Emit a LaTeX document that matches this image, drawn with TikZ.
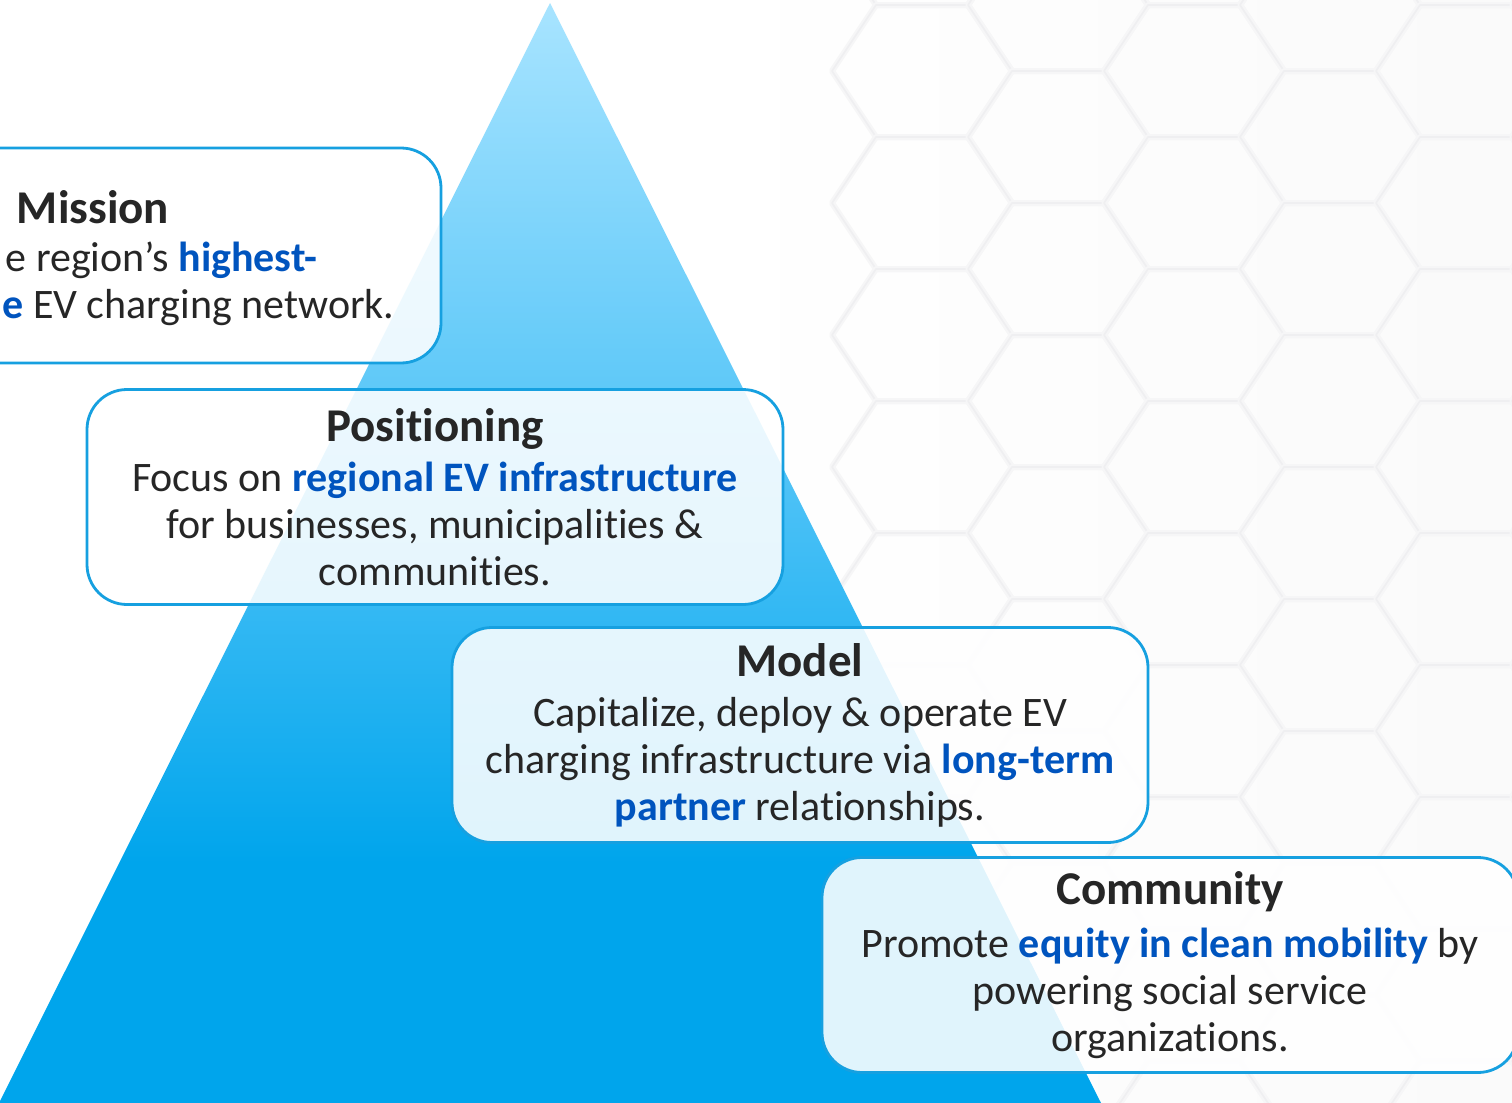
\documentclass[tikz,border=0pt]{standalone}
\usepackage{fontspec}
\setmainfont{Carlito}[Ligatures={NoCommon,NoRare,NoContextual},Contextuals={NoAlternate}]
\definecolor{boxline}{RGB}{22,160,224}
\definecolor{hl}{RGB}{0,84,190}
\definecolor{txt}{RGB}{38,38,38}
\definecolor{tritop}{RGB}{168,228,255}
\definecolor{trimid}{RGB}{72,192,246}
\definecolor{tribot}{RGB}{0,165,236}
\definecolor{hexsoft}{RGB}{246,246,247}
\definecolor{hexline}{RGB}{239,239,241}
\pgfdeclareverticalshading{tri}{100bp}{color(0bp)=(tribot); color(36bp)=(tribot); color(52bp)=(trimid); color(75bp)=(tritop); color(100bp)=(tritop)}
\newcommand{\hlt}[1]{\textbf{\color{hl}#1}}
\newcommand{\ttl}[1]{{\fontsize{23.5pt}{25pt}\selectfont\bfseries #1}}
\tikzset{
  panel/.style={draw=boxline, line width=1.4pt, rounded corners=20pt, fill=white, fill opacity=0.88, text opacity=1,
    minimum width=348pt, minimum height=107.5pt, align=center, text=txt, inner sep=0pt,
    font=\fontsize{21pt}{23.5pt}\selectfont},
  linetext/.style={text=txt, inner sep=0pt, font=\fontsize{21pt}{23.5pt}\selectfont},
  hexsoftedge/.style={draw=hexsoft, line width=3pt, line join=round},
  hexedge/.style={draw=hexline, line width=0.8pt, line join=round}
}
\begin{document}
\begin{tikzpicture}[x=0.5pt,y=-0.5pt]
\useasboundingbox (0,0) rectangle (1512,1103);
\clip (0,0) rectangle (1512,1103);
% background
\fill[white] (0,0) rectangle (1512,1103);
\shade[left color=white, right color=black!2] (700,0) rectangle (1512,1103);
% honeycomb
\foreach \k in {-1,...,4}{
  \pgfmathsetmacro{\cx}{1058+136*\k}
  \pgfmathsetmacro{\off}{mod(\k+10,2)*66}
  \foreach \n in {-1,...,8}{
    \pgfmathsetmacro{\cy}{5+\off+132*\n}
    \draw[hexsoftedge] (\cx-46,\cy-66) -- (\cx+46,\cy-66) -- (\cx+90,\cy) -- (\cx+46,\cy+66) -- (\cx-46,\cy+66) -- (\cx-90,\cy) -- cycle;
    \draw[hexedge] (\cx-46,\cy-66) -- (\cx+46,\cy-66) -- (\cx+90,\cy) -- (\cx+46,\cy+66) -- (\cx-46,\cy+66) -- (\cx-90,\cy) -- cycle;
  }
}
% pyramid
\shade[shading=tri] (550,3) -- (1102,1105) -- (-2,1105) -- cycle;
% boxes
\node[panel] (mission) at (93,255.5) {};
\node[linetext, font=\fontsize{23.5pt}{25pt}\selectfont\bfseries, anchor=base] (missiont) at (93,223) {Mission};
\node[linetext, anchor=base east] (mission1) at (318,271) {e region’s \hlt{highest-}};
\node[linetext, anchor=base east] (mission2) at (395,318) {\hlt{e} EV charging network.};

\node[panel] (pos) at (435,497) {\ttl{Positioning}\\[1.5pt]
Focus on \hlt{regional EV infrastructure}\\
for businesses, municipalities \&\\
communities.};

\node[panel] (model) at (800,735) {\ttl{Model}\\[1.5pt]
Capitalize, deploy \& operate EV\\
charging infrastructure via \hlt{long-term}\\
\hlt{partner} relationships.};

\node[panel] (comm) at (1170,965) {\ttl{Community}\\[3pt]
Promote \hlt{equity in clean mobility} by\\
powering social service\\
organizations.};
\end{tikzpicture}
\end{document}
